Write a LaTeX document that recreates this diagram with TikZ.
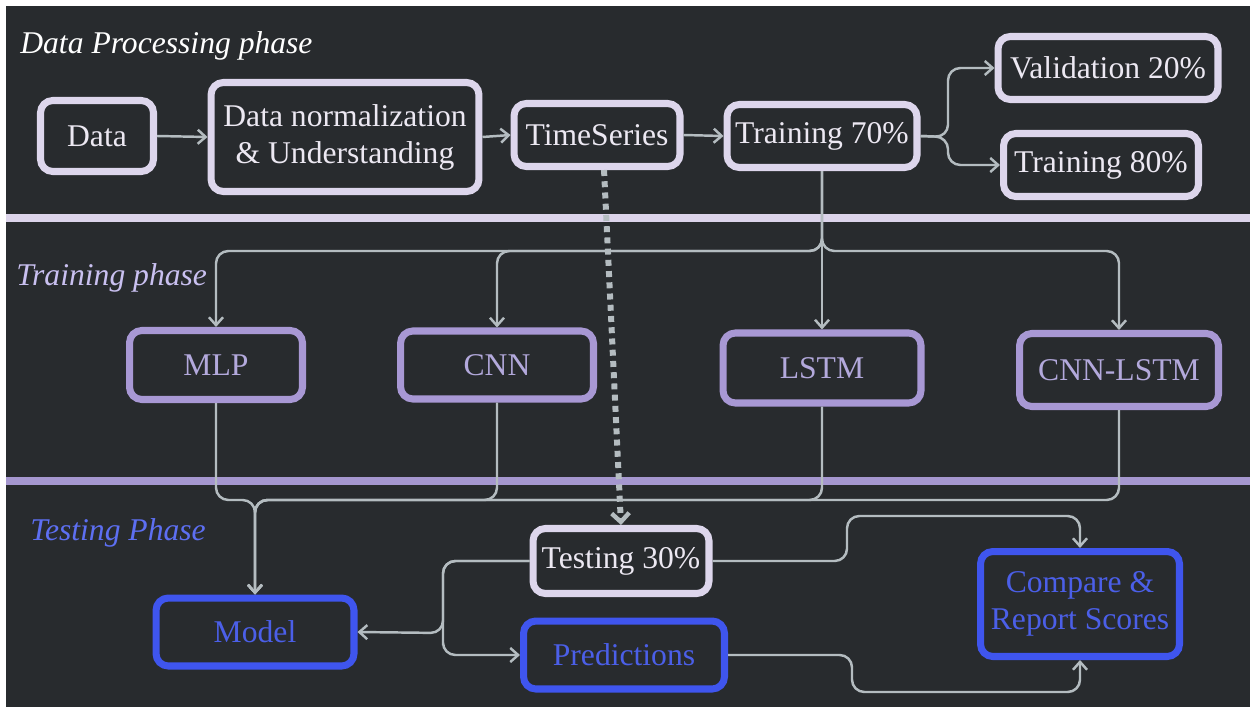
\documentclass[tikz,border=0pt]{standalone}
\usepackage{fontspec}
\setmainfont{Liberation Serif}
\usetikzlibrary{arrows.meta}
\definecolor{bgc}{HTML}{282B2E}
\definecolor{topb}{HTML}{DDD6EC}
\definecolor{topt}{HTML}{ECE8F2}
\definecolor{trb}{HTML}{A898D4}
\definecolor{trt}{HTML}{B3A9DC}
\definecolor{teb}{HTML}{3F55EE}
\definecolor{tet}{HTML}{4B5FE8}
\definecolor{conc}{HTML}{B4BCC0}
\definecolor{sepa}{HTML}{DCD4EA}
\definecolor{sepb}{HTML}{A597CF}
\definecolor{ttl2}{HTML}{C9C0F0}
\definecolor{ttl3}{HTML}{5D6FF2}
\tikzset{
  box/.style={draw, line width=4pt, rounded corners=7pt, fill=bgc, align=center,
    font=\fontsize{18}{21}\selectfont, inner sep=0pt},
  topbox/.style={box, draw=topb, text=topt},
  trbox/.style={box, draw=trb, text=trt},
  tebox/.style={box, draw=teb, text=tet},
  conn/.style={draw=conc, line width=1.4pt, rounded corners=7pt},
  arr/.style={conn, -{Straight Barb[length=4.5pt,width=8pt,line width=1.4pt]}},
  dotline/.style={draw=conc, line width=3.4pt, dash pattern=on 3.4pt off 3pt,
    -{Straight Barb[length=5pt,width=10pt,line width=2.5pt]}},
  phase/.style={font=\fontsize{18}{20}\selectfont\itshape, anchor=west, inner sep=0pt}
}
\begin{document}
\begin{tikzpicture}[x=0.02cm,y=-0.02cm]
\useasboundingbox (0,0) rectangle (1250,713);
\fill[white] (0,0) rectangle (1250,713);
\fill[bgc] (6,6) rectangle (1250,707);
% separators
\draw[sepa, line width=4.5pt] (6,218) -- (1250,218);
\draw[sepb, line width=4.5pt] (6,481) -- (1250,481);
% phase titles
\node[phase, text=white] (t1) at (20,46) {Data Processing phase};
\node[phase, text=ttl2] (t2) at (16,278) {Training phase};
\node[phase, text=ttl3] (t3) at (30,533) {Testing Phase};
% junction coordinates
\coordinate (vb) at (948,137);
\coordinate (split) at (822,251);
\coordinate (merge) at (255,500);
\coordinate (tsplit) at (443,633);
\coordinate (c1) at (847,516);
\coordinate (c2) at (852,692);
% nodes
\node[topbox, minimum width=2.26cm, minimum height=1.42cm] (data) at (97,136) {Data};
\node[topbox, minimum width=5.36cm, minimum height=2.18cm] (norm) at (345,137) {Data normalization\\\& Understanding};
\node[topbox, minimum width=3.32cm, minimum height=1.26cm] (ts) at (597,135) {TimeSeries};
\node[topbox, minimum width=3.80cm, minimum height=1.26cm] (tr70) at (822,136) {Training 70\%};
\node[topbox, minimum width=4.40cm, minimum height=1.26cm] (val) at (1108,68) {Validation 20\%};
\node[topbox, minimum width=3.90cm, minimum height=1.26cm] (tr80) at (1101,165) {Training 80\%};
\node[trbox, minimum width=3.46cm, minimum height=1.38cm] (mlp) at (216,365) {MLP};
\node[trbox, minimum width=3.86cm, minimum height=1.36cm] (cnn) at (497,365) {CNN};
\node[trbox, minimum width=3.96cm, minimum height=1.40cm] (lstm) at (822,368) {LSTM};
\node[trbox, minimum width=3.98cm, minimum height=1.46cm] (cl) at (1119,370) {CNN-LSTM};
\node[topbox, minimum width=3.52cm, minimum height=1.30cm] (test) at (621,561) {Testing 30\%};
\node[tebox, minimum width=3.96cm, minimum height=1.36cm] (model) at (255,632) {Model};
\node[tebox, minimum width=4.02cm, minimum height=1.36cm] (pred) at (624,655) {Predictions};
\node[tebox, minimum width=3.98cm, minimum height=2.10cm] (cmp) at (1080,604) {Compare \&\\Report Scores};
% top phase arrows
\draw[arr] (data.east) -- (norm.west);
\draw[arr] (norm.east) -- (ts.west);
\draw[arr] (ts.east) -- (tr70.east -| tr70.west);
\draw[arr] (tr70.east) -- (vb) |- (val.west);
\draw[arr] (tr70.east) -- (vb) |- (tr80.west);
% training distribution
\draw[arr] (tr70.south) -- (split) -| (mlp.north);
\draw[arr] (tr70.south) -- (split) -| (cnn.north);
\draw[arr] (tr70.south) -- (lstm.north);
\draw[arr] (tr70.south) -- (split) -| (cl.north);
% merge to model
\draw[arr] (mlp.south) |- (merge) -- (model.north);
\draw[arr] (cnn.south) |- (merge) -- (model.north);
\draw[arr] (lstm.south) |- (merge) -- (model.north);
\draw[arr] (cl.south) |- (merge) -- (model.north);
% dotted
\draw[dotline] ([xshift=4]ts.south) -- (test.north);
% testing
\draw[arr] (test.west) -| (tsplit) -- (model.east);
\draw[arr] (test.west) -| (tsplit) |- (pred.west);
\draw[arr] (test.east) -| (c1) -| (cmp.north);
\draw[arr] (pred.east) -| (c2) -| (cmp.south);
\end{tikzpicture}
\end{document}
